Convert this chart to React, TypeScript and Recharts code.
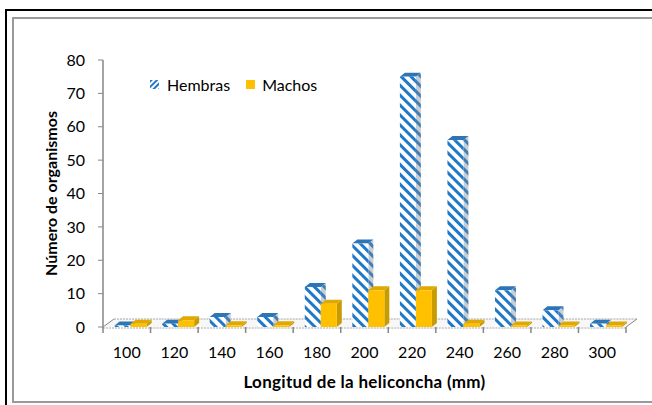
import React from "react";
import { BarChart, Bar, XAxis, YAxis } from "recharts";

const categories = ["100", "120", "140", "160", "180", "200", "220", "240", "260", "280", "300"];
const hembras = [0, 1, 3, 3, 12, 25, 75, 56, 11, 5, 1];
const machos = [1, 2, 0.5, 0.5, 7, 11, 11, 1, 0, 0, 0];
const yTicks = [0, 10, 20, 30, 40, 50, 60, 70, 80];

const data = categories.map((name, i) => ({ name, Hembras: hembras[i], Machos: machos[i] }));

const FONT = "Lato, 'Liberation Sans', sans-serif";
const DX = 5; // profundidad 3d de las barras
const DY = 4;
const SHIFT = 4;
const FX = 11; // profundidad del suelo
const FY = 8;
const MARGIN = { top: 60, right: 26, bottom: 0, left: 0 };

function Bar3D(props: any) {
  const { y, width, height, front, side, top } = props;
  const x = props.x + SHIFT;
  const h = Math.max(height, 1.5);
  const yy = y + height - h;
  return (
    <g>
      <polygon
        points={`${x + width},${yy} ${x + width + DX},${yy - DY} ${x + width + DX},${yy + h - DY} ${x + width},${yy + h}`}
        fill={side}
      />
      <polygon
        points={`${x},${yy} ${x + DX},${yy - DY} ${x + width + DX},${yy - DY} ${x + width},${yy}`}
        fill={top}
      />
      <rect x={x} y={yy} width={width} height={h} fill={front} />
    </g>
  );
}

// suelo 3d, dibujado en un gráfico de fondo
function FloorTick(props: any) {
  const { x, y, payload, index } = props;
  const off = payload.offset || 0;
  const isLast = index === categories.length - 1;
  const isFirst = index === 0;
  const a = x - off;
  const b = x + off;
  return (
    <g>
      <polygon points={`${a},${y} ${b},${y} ${b + FX},${y - FY} ${a + FX},${y - FY}`} fill="#F7F7F7" />
      <line x1={a + FX} y1={y - FY} x2={b + FX} y2={y - FY} stroke="#A6A6A6" strokeDasharray="2 1" />
      {isFirst && <line x1={a} y1={y} x2={a + FX} y2={y - FY} stroke="#868686" />}
      {isLast && <line x1={b} y1={y} x2={b + FX} y2={y - FY} stroke="#868686" />}
    </g>
  );
}

function XTick(props: any) {
  const { x, y, payload, index } = props;
  const off = payload.offset || 0;
  const isLast = index === categories.length - 1;
  const a = x - off;
  const b = x + off;
  return (
    <g>
      <line x1={a} y1={y + 1} x2={b} y2={y + 1} stroke="#A6A6A6" strokeDasharray="2 1" />
      <line x1={a} y1={y} x2={a} y2={y + 6} stroke="#868686" strokeWidth={1.5} />
      {isLast && <line x1={b} y1={y} x2={b} y2={y + 6} stroke="#868686" strokeWidth={1.5} />}
      <text x={x} y={y + 31} textAnchor="middle" fontSize={16} fill="#000" fontFamily={FONT}>
        {payload.value}
      </text>
    </g>
  );
}

function Legend2() {
  return (
    <div
      style={{
        position: "absolute",
        left: 150,
        top: 75,
        display: "flex",
        alignItems: "center",
        fontFamily: FONT,
        fontSize: 16,
        color: "#000",
      }}
    >
      <svg width={9} height={9} style={{ display: "block", marginRight: 8 }}>
        <rect width={9} height={9} fill="url(#hatchLeg)" />
      </svg>
      <span style={{ marginRight: 16 }}>Hembras</span>
      <span style={{ width: 9, height: 9, background: "#FFC000", display: "inline-block", marginRight: 7 }} />
      <span>Machos</span>
    </div>
  );
}

export default function App() {
  return (
    <div style={{ position: "absolute", left: 0, top: 0, width: 652, height: 405, background: "#fff", overflow: "hidden" }}>
      <svg width={0} height={0} style={{ position: "absolute" }}>
        <defs>
          <pattern id="hatch" patternUnits="userSpaceOnUse" width={7} height={7} patternTransform="rotate(45)">
            <rect width={7} height={7} fill="#fff" />
            <rect width={7} height={3} fill="#1F78C8" />
          </pattern>
          <pattern id="hatchSide" patternUnits="userSpaceOnUse" width={7} height={7} patternTransform="rotate(45)">
            <rect width={7} height={7} fill="#C9CED4" />
            <rect width={7} height={3} fill="#3F7FB8" />
          </pattern>
          <pattern id="hatchLeg" patternUnits="userSpaceOnUse" width={4} height={4} patternTransform="rotate(-45)">
            <rect width={4} height={4} fill="#fff" />
            <rect width={4} height={2} fill="#1F78C8" />
          </pattern>
        </defs>
      </svg>
      <div style={{ position: "absolute", left: 5, top: 9, width: 700, height: 420, border: "2px solid #000" }} />
      <div style={{ position: "absolute", left: 12, top: 17, width: 680, height: 382, border: "2px solid #9A9A9A" }} />
      <div style={{ position: "absolute", left: 0, top: 0 }}>
        <BarChart width={652} height={405} data={data} margin={MARGIN}>
          <XAxis
            dataKey="name"
            height={78}
            tickLine={false}
            tickSize={0}
            tickMargin={0}
            axisLine={false}
            tick={<FloorTick />}
            interval={0}
          />
          <YAxis width={103} domain={[0, 80]} ticks={yTicks} tick={false} axisLine={false} tickLine={false} />
        </BarChart>
      </div>
      <div style={{ position: "absolute", left: 0, top: 0 }}>
        <BarChart width={652} height={405} data={data} margin={MARGIN} barCategoryGap="16%" barGap={0}>
          <XAxis
            dataKey="name"
            height={78}
            tickLine={false}
            tickSize={0}
            tickMargin={0}
            axisLine={false}
            tick={<XTick />}
            interval={0}
            label={{
              value: "Longitud de la heliconcha (mm)",
              position: "insideBottom",
              offset: 17,
              fontSize: 17,
              fontWeight: "bold",
              fill: "#000",
              fontFamily: FONT,
              letterSpacing: 0.3,
            }}
          />
          <YAxis
            width={103}
            domain={[0, 80]}
            ticks={yTicks}
            interval={0}
            tickSize={5}
            tickMargin={13}
            tickLine={{ stroke: "#868686" }}
            axisLine={{ stroke: "#868686", strokeWidth: 1.5 }}
            tick={{ fontSize: 16, fill: "#000", fontFamily: FONT }}
            label={{
              value: "Número de organismos",
              angle: -90,
              position: "insideLeft",
              offset: 51,
              fontSize: 16,
              fontWeight: "bold",
              fill: "#000",
              fontFamily: FONT,
              style: { textAnchor: "middle" },
            }}
          />
          <Bar
            dataKey="Hembras"
            isAnimationActive={false}
            fill="url(#hatch)"
            shape={<Bar3D front="url(#hatch)" side="url(#hatchSide)" top="#2E75B6" />}
          />
          <Bar
            dataKey="Machos"
            isAnimationActive={false}
            fill="#FFC000"
            shape={<Bar3D front="#FFC000" side="#C89B00" top="#E0A800" />}
          />
        </BarChart>
      </div>
      <Legend2 />
    </div>
  );
}
